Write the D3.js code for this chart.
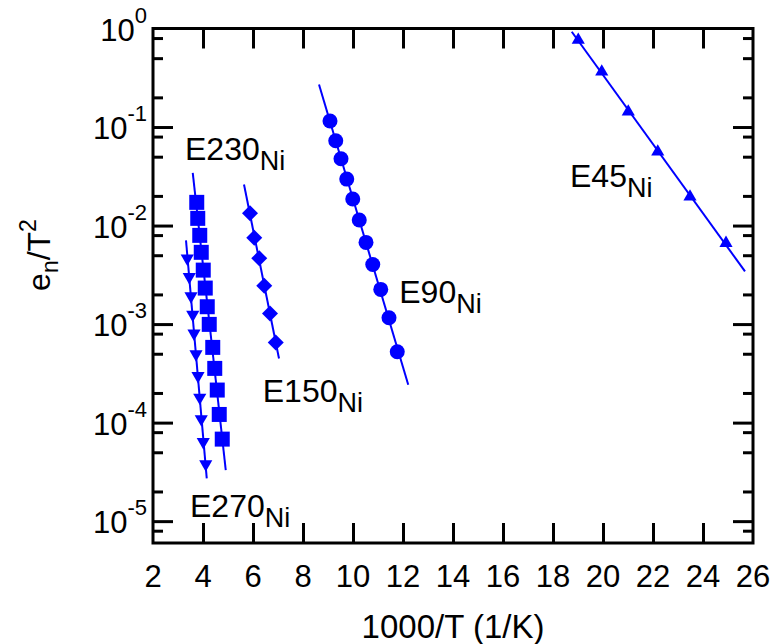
<!DOCTYPE html>
<html>
<head>
<meta charset="utf-8">
<script src="https://cdn.jsdelivr.net/npm/d3@7"></script>
<style>
  html, body { margin: 0; padding: 0; background: #fff; }
  svg { display: block; font-family: "Liberation Sans", Arial, Helvetica, sans-serif; }
</style>
</head>
<body>
<svg id="chart" width="774" height="644"></svg>
<script>
// Arrhenius data: emission rate over T^2 versus 1000/T for five Ni-related levels

// E45_Ni (up triangles)
const e45X = [19.01, 19.95, 21.01, 22.19, 23.48, 24.92];
const e45Y = [0.764, 0.364, 0.143, 0.0561, 0.0196, 0.00664];
const e45Fit = [18.75, 25.68];

// E90_Ni (circles)
const e90X = [9.08, 9.31, 9.52, 9.75, 9.99, 10.25, 10.52, 10.79, 11.11, 11.44, 11.77];
const e90Y = [0.115, 0.0726, 0.0477, 0.0296, 0.0186, 0.0114, 0.00675, 0.00403, 0.00225, 0.00116, 0.000523];
const e90Fit = [8.64, 12.21];

// E150_Ni (diamonds)
const e150X = [5.88, 6.05, 6.25, 6.45, 6.68, 6.91];
const e150Y = [0.0133, 0.00752, 0.00465, 0.00245, 0.00128, 0.000651];
const e150Fit = [5.64, 7.04];

// E230_Ni (squares)
const e230X = [3.75, 3.79, 3.87, 3.93, 4.01, 4.09, 4.17, 4.25, 4.39, 4.47, 4.57, 4.65, 4.77];
const e230Y = [0.0172, 0.01183, 0.00795, 0.00535, 0.00353, 0.00232, 0.0015, 0.000993, 0.00058, 0.000355, 0.000214, 0.000121, 0.000068];
const e230Fit = [3.59, 4.91];

// E270_Ni (down triangles)
const e270X = [3.37, 3.45, 3.52, 3.59, 3.64, 3.72, 3.80, 3.87, 3.93, 4.01, 4.11];
const e270Y = [0.00465, 0.00302, 0.00192, 0.00125, 0.000805, 0.000496, 0.000298, 0.00018, 0.000109, 0.0000638, 0.0000379];
const e270Fit = [3.32, 4.15];

// Axis ticks
const xTicks = [2, 4, 6, 8, 10, 12, 14, 16, 18, 20, 22, 24, 26];
const yExponents = [0, -1, -2, -3, -4, -5];
const yMinorMantissas = [2, 5, 8];

// Level names and where their labels sit (data coordinates of the left baseline)
const labelNames = ["E230", "E150", "E270", "E90", "E45"];
const labelX = [3.28, 6.39, 3.48, 11.85, 18.68];
const labelY = [0.0463, 1.63e-4, 1.094e-5, 1.637e-3, 0.0248];

const svg = d3.select("#chart");
const mLeft = 153, mRight = 753, mTop = 28.5, mBottom = 543;
const blue = "#0000ff";

const x = d3.scaleLinear().domain([2, 26]).range([mLeft, mRight]);
const y = d3.scaleLog().domain([6e-6, 1]).range([mBottom, mTop]);

// ---- series ----
const series = [
  { xs: e270X, ys: e270Y, fit: e270Fit, shape: "tridown" },
  { xs: e230X, ys: e230Y, fit: e230Fit, shape: "square" },
  { xs: e150X, ys: e150Y, fit: e150Fit, shape: "diamond" },
  { xs: e90X,  ys: e90Y,  fit: e90Fit,  shape: "circle" },
  { xs: e45X,  ys: e45Y,  fit: e45Fit,  shape: "triup" }
];

const plot = svg.append("g");

series.forEach(s => {
  // least-squares line through log10(y) vs x
  const lx = s.xs, ly = s.ys.map(v => Math.log10(v));
  const mx = d3.mean(lx), my = d3.mean(ly);
  const slope = d3.sum(lx, (v, i) => (v - mx) * (ly[i] - my)) / d3.sum(lx, v => (v - mx) * (v - mx));
  const icpt = my - slope * mx;
  const fitPts = s.fit.map(v => [v, Math.pow(10, icpt + slope * v)]);
  plot.append("path")
    .attr("d", d3.line().x(d => x(d[0])).y(d => y(d[1]))(fitPts))
    .attr("fill", "none")
    .attr("stroke", blue)
    .attr("stroke-width", 2);

  const pts = s.xs.map((v, i) => [v, s.ys[i]]);
  const g = plot.append("g").attr("fill", blue);
  const sel = g.selectAll("path").data(pts).join("path")
    .attr("transform", d => `translate(${x(d[0])},${y(d[1])})`);
  if (s.shape === "square") sel.attr("d", d3.symbol(d3.symbolSquare, 225)());
  else if (s.shape === "circle") sel.attr("d", d3.symbol(d3.symbolCircle, Math.PI * 7.5 * 7.5)());
  else if (s.shape === "diamond") sel.attr("d", "M0,-8L8,0L0,8L-8,0Z");
  else if (s.shape === "triup") sel.attr("d", d3.symbol(d3.symbolTriangle, 75)());
  else if (s.shape === "tridown") sel.attr("d", d3.symbol(d3.symbolTriangle, 75)())
    .attr("transform", d => `translate(${x(d[0])},${y(d[1])}) rotate(180)`);
});

// ---- axes (ticks drawn inward on all four sides) ----
const axes = svg.append("g");
const xInner = xTicks.slice(1, -1);

axes.append("g").attr("transform", `translate(0,${mBottom})`)
  .call(d3.axisBottom(x).tickValues(xInner).tickSize(-20).tickFormat(""))
  .call(g => g.select(".domain").remove());
axes.append("g").attr("transform", `translate(0,${mTop})`)
  .call(d3.axisTop(x).tickValues(xInner).tickSize(-20).tickFormat(""))
  .call(g => g.select(".domain").remove());

const yMajor = yExponents.filter(e => e > -6 && e < 0).map(e => Math.pow(10, e));
const yMinor = [];
[0, -1, -2, -3, -4, -5, -6].forEach(e => yMinorMantissas.forEach(m => {
  const v = m * Math.pow(10, e);
  if (v > 6e-6 && v < 1) yMinor.push(v);
}));

[[d3.axisLeft, mLeft], [d3.axisRight, mRight]].forEach(([axisFn, pos]) => {
  axes.append("g").attr("transform", `translate(${pos},0)`)
    .call(axisFn(y).tickValues(yMajor).tickSize(-20).tickFormat(""))
    .call(g => g.select(".domain").remove());
  axes.append("g").attr("transform", `translate(${pos},0)`)
    .call(axisFn(y).tickValues(yMinor).tickSize(-10).tickFormat(""))
    .call(g => g.select(".domain").remove());
});
axes.selectAll(".tick line").attr("stroke", "#000").attr("stroke-width", 3);

// frame
svg.append("rect")
  .attr("x", mLeft).attr("y", mTop)
  .attr("width", mRight - mLeft).attr("height", mBottom - mTop)
  .attr("fill", "none").attr("stroke", "#000").attr("stroke-width", 3);

// x tick labels
svg.append("g").selectAll("text").data(xTicks).join("text")
  .attr("x", d => x(d)).attr("y", mBottom + 44)
  .attr("text-anchor", "middle")
  .attr("font-size", 31)
  .text(d => d);

// y tick labels: 10 with superscript exponent
const yl = svg.append("g").selectAll("text").data(yExponents).join("text")
  .attr("x", 147).attr("y", d => y(Math.pow(10, d)) + 12)
  .attr("text-anchor", "end")
  .attr("font-size", 31);
yl.append("tspan").text("10");
yl.append("tspan").attr("dy", -18).attr("font-size", 22).text(d => d === 0 ? "0" : "-" + (-d));

// axis titles
svg.append("text")
  .attr("x", 453).attr("y", 638)
  .attr("text-anchor", "middle").attr("font-size", 33)
  .text("1000/T (1/K)");

const yt = svg.append("text")
  .attr("transform", "translate(50,255) rotate(-90)")
  .attr("text-anchor", "middle").attr("font-size", 32);
yt.append("tspan").text("e");
yt.append("tspan").attr("dy", 8).attr("font-size", 23).text("n");
yt.append("tspan").attr("dy", -8).text("/T");
yt.append("tspan").attr("dy", -14).attr("font-size", 23).text("2");

// level labels
labelNames.forEach((name, i) => {
  const t = svg.append("text")
    .attr("x", x(labelX[i])).attr("y", y(labelY[i]))
    .attr("font-size", 32);
  t.append("tspan").text(name);
  t.append("tspan").attr("dy", 10).attr("font-size", 27).text("Ni");
});
</script>
</body>
</html>
